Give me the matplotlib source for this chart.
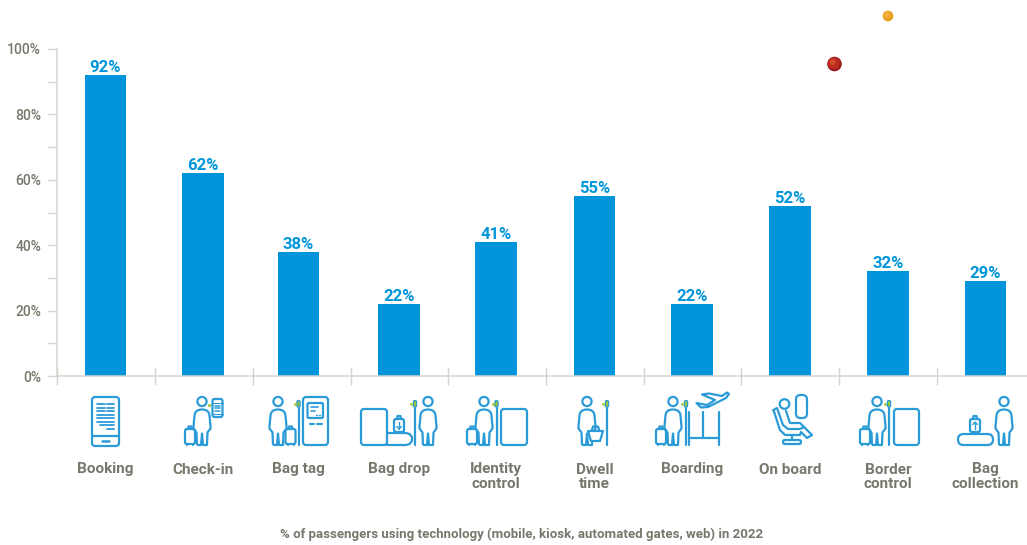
import matplotlib
matplotlib.use('Agg')
import matplotlib.pyplot as plt
from matplotlib.patches import Circle, FancyBboxPatch, PathPatch, Polygon
from matplotlib.path import Path
from matplotlib.ticker import MultipleLocator, FuncFormatter

categories = ['Booking', 'Check-in', 'Bag tag', 'Bag drop', 'Identity\ncontrol', 'Dwell\ntime',
              'Boarding', 'On board', 'Border\ncontrol', 'Bag\ncollection']
values = [92, 62, 38, 22, 41, 55, 22, 52, 32, 29]

BLUE = '#0095da'
ICON = '#2b9bd8'
GREEN = '#9cc832'
GREY = '#77776b'
AXIS = '#d6d4cd'

plt.rcParams['font.family'] = ['Roboto', 'DejaVu Sans']

W, H = 1027, 545
fig = plt.figure(figsize=(W / 100, H / 100), dpi=100)
ax = fig.add_axes([57 / W, 1 - 376 / H, (W - 57) / W, (376 - 49) / H])

# axes run in pixels along x so the slots line up with the icons below
bar_x = [105.5, 203, 298.5, 399, 496, 594.5, 692, 790, 888, 985.5]
slot_x = [57, 155, 252.5, 350.5, 448, 545.5, 643.5, 741, 839, 937]
ax.bar(bar_x, values, width=41.5, color=BLUE)
for x, v in zip(bar_x, values):
    ax.annotate(f'{v}%', (x, v), xytext=(0, 0), textcoords='offset points', ha='center', va='bottom',
                color=BLUE, fontsize=12, fontweight='bold')

ax.set_xlim(57, W)
ax.set_ylim(0, 100)
ax.yaxis.set_major_locator(MultipleLocator(20))
ax.yaxis.set_minor_locator(MultipleLocator(10))
ax.yaxis.set_major_formatter(FuncFormatter(lambda v, p: f'{v:.0f}%'))
ax.set_xticks(slot_x)
ax.set_xticklabels([])
ax.tick_params(axis='y', which='both', length=6.5, width=1, color=AXIS, labelcolor=GREY, labelsize=10, pad=5)
ax.tick_params(axis='x', length=13, width=1, color=AXIS, direction='inout')
for label in ax.get_yticklabels():
    label.set_fontweight('medium')
for s in ['top', 'right']:
    ax.spines[s].set_visible(False)
for s in ['left', 'bottom']:
    ax.spines[s].set_color(AXIS)
    ax.spines[s].set_linewidth(1.1)
ax.spines['left'].set_bounds(0, 100)

# overlay in pixel coordinates for the icons, y going down
ov = fig.add_axes([0, 0, 1, 1], facecolor='none')
ov.set_xlim(0, W)
ov.set_ylim(H, 0)
ov.axis('off')
LW = 1.6


def line(xs, ys, color=ICON, lw=LW):
    ov.plot(xs, ys, color=color, lw=lw, solid_capstyle='round', solid_joinstyle='round')


def rbox(x0, y0, x1, y1, r=2.5, lw=LW, fc='none'):
    ov.add_patch(FancyBboxPatch((x0 + r, y0 + r), x1 - x0 - 2 * r, y1 - y0 - 2 * r,
                                boxstyle=f'round,pad={r},rounding_size={r}', fc=fc, ec=ICON, lw=lw))


def person(cx, hy=401.5):
    ov.add_patch(Circle((cx, hy), 4.6, fc='none', ec=ICON, lw=LW))
    M, L, Q = Path.MOVETO, Path.LINETO, Path.CURVE3
    pts = [(-5, 43.5), (-5.5, 31), (-8.5, 27), (-8.5, 25), (-7.5, 14), (-7, 8), (0, 8), (7, 8), (7.5, 14),
           (8.5, 25), (8.5, 27), (5.5, 31), (5, 43.5), (1, 43.5), (0, 32), (-1, 43.5), (-5, 43.5)]
    codes = [M, L, L, L, L, Q, Q, Q, Q, L, L, L, L, L, L, L, L]
    path = Path([(cx + dx, hy + dy) for dx, dy in pts], codes)
    ov.add_patch(PathPatch(path, fc='none', ec=ICON, lw=LW, joinstyle='round'))


def suitcase(x0, y0=429, y1=444):
    rbox(x0, y0, x0 + 10, y1, r=2)
    line([x0 + 3, x0 + 3.5, x0 + 6.5, x0 + 7], [y0, y0 - 2.5, y0 - 2.5, y0])
    line([x0 + 2, x0 + 2], [y1, y1 + 1])
    line([x0 + 8, x0 + 8], [y1, y1 + 1])


def pole(x, y0=408, y1=445):
    line([x, x], [y0, y1])
    rbox(x - 1.6, y0 - 7.5, x + 1.6, y0 - 1, r=1.4, lw=0.9, fc=GREEN)
    ov.plot([x - 4], [y0 - 4], marker='.', ms=2, color=GREEN)


def bag(x0, y0, up):
    rbox(x0, y0 + 3, x0 + 10, y0 + 16, r=2)
    line([x0 + 3, x0 + 3.5, x0 + 6.5, x0 + 7], [y0 + 3, y0, y0, y0 + 3])
    cx = x0 + 5
    line([cx, cx], [y0 + 6, y0 + 13], lw=1)
    tip = y0 + 6 if up else y0 + 13
    off = 2.5 if up else -2.5
    line([cx - 2.3, cx, cx + 2.3], [tip + off, tip, tip + off], lw=1)


# booking
rbox(92, 397, 119, 446, r=3)
line([92, 119], [436, 436])
line([102, 108.5], [441, 441], lw=1.8)
for y, x0, x1, gap in [(404, 97, 114, True), (407.5, 97, 114, True), (411, 97, 114, True), (414.5, 97, 114, False),
                       (418, 97, 114, False), (421.5, 97, 114, False), (425, 100, 114, False), (428.5, 107, 114, False)]:
    if gap:
        line([x0, 104.5], [y, y], lw=1.3)
        line([106.5, x1], [y, y], lw=1.3)
    else:
        line([x0, x1], [y, y], lw=1.3)

# check-in
person(202)
suitcase(185)
rbox(212.5, 399, 222.5, 417, r=2)
line([212.5, 222.5], [402.5, 402.5], lw=0.8)
line([212.5, 222.5], [413.5, 413.5], lw=0.8)
for y in [405.5, 408, 410.5]:
    line([215, 220], [y, y], lw=1.1)
ov.plot([209], [405], marker='.', ms=2.5, color=GREEN)

# bag tag
person(278)
suitcase(285.5)
pole(298.5)
rbox(303, 397, 328, 445, r=3)
rbox(307.5, 403, 323, 418, r=1.5)
line([310.5, 318], [407, 407], lw=1.2)
line([310.5, 315], [410.5, 410.5], lw=1.2)
line([316, 317], [414.5, 414.5], lw=1)
line([319, 320], [414.5, 414.5], lw=1)
line([309.5, 313.5], [424, 424], lw=1.5)
line([317, 321.5], [424, 424], lw=1.5)

# bag drop
rbox(361, 409, 387, 445, r=3)
line([387, 406, 409.5, 412, 412, 409.5, 406, 387],
     [433, 433, 434, 437, 441, 444, 445, 445])
bag(394, 416, up=False)
pole(415)
person(428)

# identity control
person(484)
suitcase(467)
pole(496.5)
rbox(501, 409, 527, 445, r=3)

# dwell time
person(587)
pole(607)
ov.add_patch(Polygon([(588, 431), (603, 431), (600, 441), (591, 441)], closed=True, fc='white', ec=ICON,
                     lw=LW, joinstyle='round', zorder=3))
line([591.5, 593, 598, 599.5], [431, 426.5, 426.5, 431])

# boarding
person(673)
suitcase(656)
pole(686)
line([688.5, 688.5], [412, 445])
line([688.5, 703, 719], [438, 438, 438])
line([703, 703], [412, 438])
line([719, 719], [412, 445])
ov.add_patch(Polygon([(696.5, 403), (707, 405), (715, 400), (702, 394.5), (709, 393.5), (722, 396), (727, 392.5),
                      (729, 394), (726, 398), (708, 407), (701, 407.5)], closed=True, fc='none', ec=ICON,
                     lw=LW, joinstyle='round'))

# on board
ov.add_patch(Circle((784.5, 404), 4.8, fc='none', ec=ICON, lw=LW))
rbox(796, 395, 807, 418, r=4.5)
line([773.5, 777, 783, 788, 800, 804, 812, 807, 801, 800, 785, 780, 773.5],
     [410, 408, 425, 429, 429, 427, 435, 438, 432, 435, 435, 430, 410])
line([786, 790, 800, 804], [411, 423, 423, 427])
line([792, 792], [435, 440])
rbox(783, 440, 801, 444, r=1.8)

# border control
person(877)
suitcase(860)
pole(889)
rbox(894, 409, 919, 445, r=3)

# bag collection
rbox(958, 434, 993, 445, r=5.5)
bag(970, 416, up=True)
person(1004)

for x, name in zip(bar_x, categories):
    ov.text(x, 462.5, name, ha='center', va='top', color=GREY, fontsize=11, fontweight='bold', linespacing=1.05)

ov.text(522, 534, '% of passengers using technology (mobile, kiosk, automated gates, web) in 2022',
        ha='center', va='center', color=GREY, fontsize=9.5, fontweight='bold')


# shaded spheres top right
def sphere(cx, cy, r, dark, mid, light):
    ov.add_patch(Circle((cx, cy), r, fc=dark, ec='none'))
    ov.add_patch(Circle((cx - r * 0.1, cy - r * 0.1), r * 0.8, fc=mid, ec='none'))
    ov.add_patch(Circle((cx - r * 0.25, cy - r * 0.25), r * 0.4, fc=light, ec='none'))


sphere(834.5, 64, 7.3, '#981a1c', '#bd2a20', '#d24a2c')
sphere(888, 16, 5.3, '#e8981a', '#f0a526', '#f5b648')

fig.savefig('out.png', dpi=100)
